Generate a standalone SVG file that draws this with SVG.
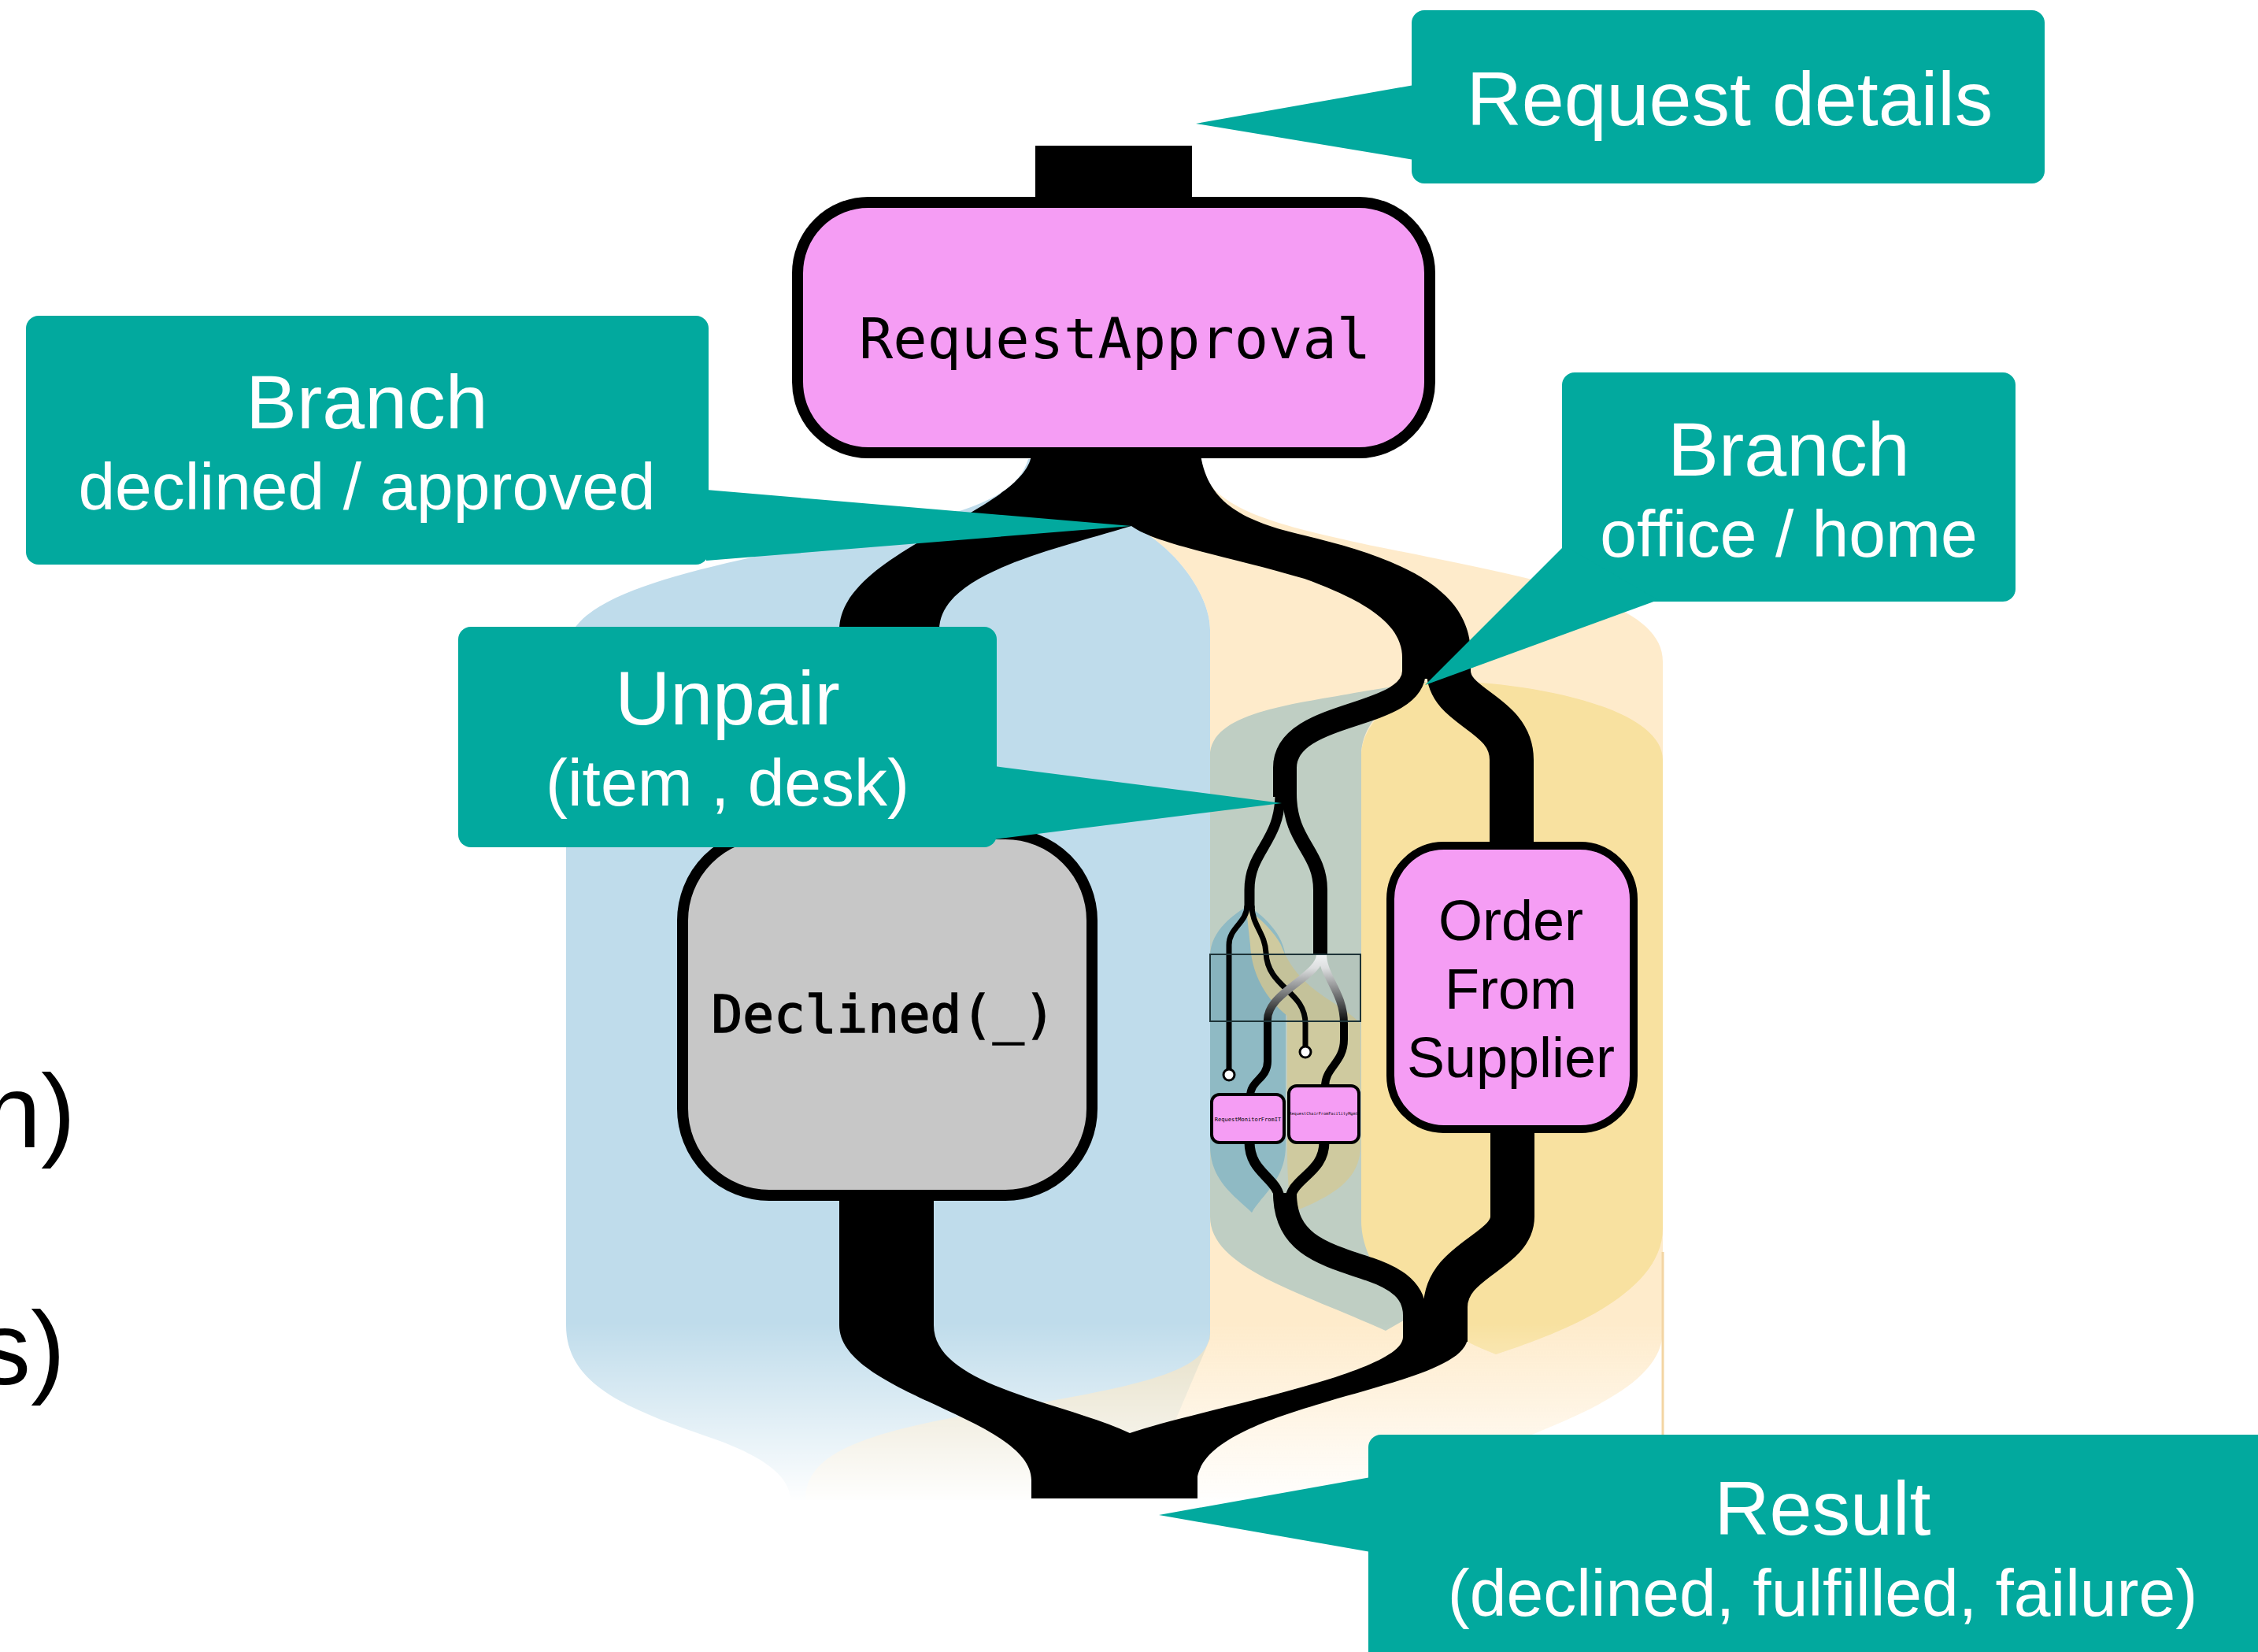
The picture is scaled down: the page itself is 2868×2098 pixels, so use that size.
<svg xmlns="http://www.w3.org/2000/svg" width="2868" height="2098" viewBox="0 0 2868 2098">
<defs>
<style>
.flow{fill:none;stroke:#000;stroke-linecap:butt}
.trunk{fill:#000}
.thin{fill:none;stroke:#000;stroke-width:7}
.grad{fill:none;stroke:url(#deskGrad);stroke-width:10}
.port{fill:#fff;stroke:#000;stroke-width:3}
.callout{fill:#02A99E}
.ctitle{font-family:"Liberation Sans",Arial,sans-serif;font-size:97px;fill:#fff;text-anchor:middle}
.csub{font-family:"Liberation Sans",Arial,sans-serif;font-size:84px;fill:#fff;text-anchor:middle}
.mono{font-family:"DejaVu Sans Mono","Liberation Mono",monospace;fill:#000;text-anchor:middle}
.sans{font-family:"Liberation Sans",Arial,sans-serif;fill:#000;text-anchor:middle}
.step{fill:#F59DF4;stroke:#000}
</style>
<linearGradient id="fadeGrad" gradientUnits="userSpaceOnUse" x1="0" y1="1680" x2="0" y2="1910">
<stop offset="0" stop-color="#fff"/>
<stop offset="1" stop-color="#000"/>
</linearGradient>
<mask id="laneFade" maskUnits="userSpaceOnUse" x="0" y="0" width="2868" height="2098">
<rect x="0" y="0" width="2868" height="2098" fill="url(#fadeGrad)"/>
</mask>
<linearGradient id="deskGrad" gradientUnits="userSpaceOnUse" x1="0" y1="1212" x2="0" y2="1300">
<stop offset="0" stop-color="#fff"/>
<stop offset="0.2" stop-color="#e8e8e8"/>
<stop offset="1" stop-color="#000"/>
</linearGradient>
</defs>
<rect width="2868" height="2098" fill="#fff"/>

<!-- clipped labels of the neighbouring column -->
<g id="edge-text" font-family="Liberation Sans, Arial, sans-serif" font-size="132" fill="#000" text-anchor="end">
<text x="96" y="1457">n)</text>
<text x="83" y="1758">s)</text>
</g>

<!-- scope lanes behind the flows -->
<g id="lanes" mask="url(#laneFade)">
<path id="lane-declined" fill="#BFDCEB" d="M1306,583 C1290,640 1200,658 1050,688 C850,728 719,760 719,830 L719,1683 C719,1760 800,1790 900,1825 C980,1852 1004,1880 1004,1905 L1450,1905 L1537,1700 L1537,800 C1537,760 1500,700 1440,668 L1400,583 Z"/>
<path id="lane-approved" fill="#FDDEA8" fill-opacity="0.6" d="M1522,583 C1535,645 1610,665 1753,695 C1950,735 2112,762 2112,840 L2112,1690 C2112,1760 2000,1800 1900,1840 C1760,1890 1560,1905 1520,1905 L1023,1905 C1023,1840 1110,1815 1300,1785 C1480,1755 1537,1735 1537,1690 L1537,800 C1537,760 1500,700 1440,668 Z"/>
<path id="lane-office" fill="#BFCEC3" d="M1537,960 C1537,905 1640,895 1720,880 C1770,872 1800,866 1812,866 C1760,890 1729,920 1729,960 L1729,1545 C1729,1600 1790,1625 1830,1650 L1760,1690 C1650,1640 1537,1610 1537,1545 Z"/>
<path id="lane-home" fill="#F8E1A0" d="M1729,960 C1729,920 1770,885 1812,866 C1900,860 2112,890 2112,965 L2112,1560 C2112,1650 1960,1700 1900,1720 C1800,1680 1729,1620 1729,1550 Z"/>
<path id="lane-item" fill="#8FBAC4" d="M1537,1215 C1537,1180 1570,1160 1585,1150 C1600,1160 1633,1185 1633,1220 L1633,1455 C1633,1500 1600,1520 1590,1540 C1570,1520 1537,1500 1537,1455 Z"/>
<path id="lane-desk" fill="#CFCA9F" d="M1583,1155 C1595,1160 1620,1185 1627,1200 C1650,1260 1700,1270 1728,1300 L1728,1455 C1728,1500 1690,1520 1640,1540 C1635,1500 1635,1470 1635,1455 L1635,1290 C1610,1270 1590,1240 1588,1200 Z"/>
</g>
<line x1="2112" y1="1590" x2="2112" y2="1822" stroke="#F3D5A3" stroke-width="3"/>

<!-- flows between the steps -->
<g id="connectors">
<rect x="1315" y="185" width="199" height="80" fill="#000"/>
<!-- split after RequestApproval: declined (left) / approved (right) -->
<path class="trunk" d="M1310,578 L1525,578 C1535,640 1580,662 1657,680 C1760,705 1868,740 1868,830 L1868,862 L1781,862 L1781,835 C1781,795 1740,765 1657,735 C1560,706 1470,692 1437,668 C1330,700 1193,730 1193,800 L1193,1070 L1066,1070 L1066,800 C1066,700 1300,650 1310,578 Z"/>
<path class="flow" stroke-width="30" d="M1796,852 C1796,915 1632,900 1632,975 L1632,1012"/>
<path class="flow" stroke-width="56" d="M1840,852 C1840,900 1920,905 1920,965 L1920,1080"/>
<path class="flow" stroke-width="13" d="M1626,1008 C1626,1070 1587,1080 1587,1130 L1587,1153"/>
<path class="flow" stroke-width="18" d="M1638,1008 C1638,1070 1677,1080 1677,1130 L1677,1213"/>
<path class="thin" d="M1584,1150 C1584,1172 1561,1178 1561,1200 L1561,1358"/>
<path class="thin" d="M1590,1150 C1590,1175 1607,1185 1608,1210 C1610,1255 1658,1258 1658,1300 L1658,1330"/>
<circle class="port" cx="1561" cy="1365" r="7"/>
<circle class="port" cx="1658" cy="1336" r="7"/>
<path class="grad" d="M1677,1212 C1677,1240 1610,1260 1610,1295 L1610,1348 C1610,1370 1588,1372 1588,1392"/>
<path class="grad" d="M1680,1212 C1680,1240 1707,1260 1707,1300 L1707,1320 C1707,1350 1683,1355 1683,1380"/>
<rect x="1537" y="1212" width="191" height="85" fill="#284850" fill-opacity="0.06" stroke="#1E3438" stroke-width="2"/>
<path class="flow" stroke-width="13" d="M1587,1450 C1587,1492 1626,1495 1626,1528"/>
<path class="flow" stroke-width="13" d="M1682,1450 C1682,1492 1638,1495 1638,1528"/>
<path class="flow" stroke-width="30" d="M1632,1515 C1632,1580 1680,1592 1740,1612 C1775,1624 1797,1640 1797,1670 L1797,1704"/>
<path class="flow" stroke-width="56" d="M1921,1430 L1921,1545 C1921,1590 1836,1600 1836,1660 L1836,1704"/>
<!-- merge of declined and approved into the result -->
<path class="trunk" d="M1066,1515 L1186,1515 L1186,1683 C1186,1760 1350,1780 1435,1820 C1520,1790 1782,1745 1782,1698 L1864,1698 C1864,1765 1540,1780 1521,1875 L1521,1903 L1310,1903 L1310,1880 C1310,1800 1066,1770 1066,1683 Z"/>
</g>

<!-- steps -->
<g id="request-approval">
<rect class="step" x="1013" y="257" width="803" height="318" rx="90" stroke-width="14"/>
<text class="mono" x="1416" y="455" font-size="72">RequestApproval</text>
</g>
<g id="declined">
<rect x="867" y="1059" width="520" height="459" rx="110" fill="#C7C7C7" stroke="#000" stroke-width="14"/>
<text class="mono" x="1122" y="1311" font-size="66" stroke="#000" stroke-width="1.6">Declined(_)</text>
</g>
<g id="order-from-supplier">
<rect class="step" x="1766" y="1074" width="309" height="360" rx="68" stroke-width="10"/>
<text class="sans" x="1919" y="1194" font-size="72">Order</text>
<text class="sans" x="1919" y="1281" font-size="72">From</text>
<text class="sans" x="1919" y="1368" font-size="72">Supplier</text>
</g>
<g id="request-monitor">
<rect class="step" x="1539" y="1390" width="92" height="61" rx="10" stroke-width="4"/>
<text class="mono" x="1585" y="1424" font-size="7">RequestMonitorFromIT</text>
</g>
<g id="request-chair">
<rect class="step" x="1637" y="1379" width="89" height="72" rx="10" stroke-width="4"/>
<text class="mono" x="1681" y="1416" font-size="5.2">RequestChairFromFacilityMgmt</text>
</g>

<!-- annotations -->
<g id="note-request-details">
<rect class="callout" x="1793" y="13" width="804" height="220" rx="16"/>
<polygon class="callout" points="1796,108 1519,157 1796,203"/>
<text class="ctitle" x="2197" y="159" font-size="99">Request details</text>
</g>
<g id="note-branch-approval">
<rect class="callout" x="33" y="401" width="867" height="316" rx="16"/>
<polygon class="callout" points="897,622 1437,668 897,712"/>
<text class="ctitle" x="466" y="544">Branch</text>
<text class="csub" x="466" y="647">declined / approved</text>
</g>
<g id="note-branch-location">
<rect class="callout" x="1984" y="473" width="576" height="291" rx="16"/>
<polygon class="callout" points="1987,693 1810,870 2106,762"/>
<text class="ctitle" x="2272" y="604">Branch</text>
<text class="csub" x="2272" y="707">office / home</text>
</g>
<g id="note-unpair">
<rect class="callout" x="582" y="796" width="684" height="280" rx="16"/>
<polygon class="callout" points="1263,973 1628,1020 1263,1066"/>
<text class="ctitle" x="924" y="920">Unpair</text>
<text class="csub" x="924" y="1023">(item , desk)</text>
</g>
<g id="note-result">
<rect class="callout" x="1738" y="1822" width="1150" height="300" rx="16"/>
<polygon class="callout" points="1741,1876 1472,1924 1741,1971"/>
<text class="ctitle" x="2315" y="1949">Result</text>
<text class="csub" x="2315" y="2052">(declined, fulfilled, failure)</text>
</g>
</svg>
